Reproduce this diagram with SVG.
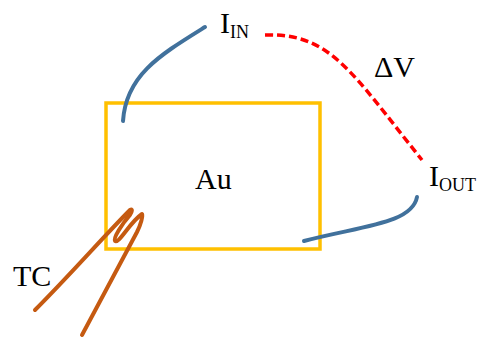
<svg xmlns="http://www.w3.org/2000/svg" width="477" height="340" viewBox="0 0 477 340">
<style>
.t{font-family:"Liberation Serif",serif;fill:#000}
.l{font-size:30px}
.s{font-size:18px}
.w{fill:none;stroke-linecap:round;stroke-linejoin:round;stroke-width:4}
</style>
<rect width="477" height="340" fill="#fff"/>
<g id="au"><rect x="106" y="103" width="214" height="146" fill="none" stroke="#ffc000" stroke-width="3.5"/>
<text class="t l" x="195" y="189">Au</text></g>
<g id="connectors">
<path class="w" stroke="#41719c" d="M123 121C126 75 160 55 205 27"/>
<path class="w" stroke="#41719c" d="M304 241C360 226 412 224 417 197"/>
<path fill="none" stroke="#f00" stroke-width="3.5" stroke-dasharray="8 4" d="M265 35C330 33 350 70 422 160"/>
<path class="w" stroke="#c55a11" d="M35 310C70 275 105 235 130 210C133 208 132 212 130 215C122 224 113 238 115 241C119 244 130 222 142 214C143 216 141 224 137 232L82 335"/>
</g>
<g id="iin"><text class="t l" x="220" y="33">I<tspan class="s" dy="5">IN</tspan></text></g>
<g id="iout"><text class="t l" x="429" y="186">I<tspan class="s" dy="5">OUT</tspan></text></g>
<g id="dv"><text class="t l" x="374" y="77">ΔV</text></g>
<g id="tc"><text class="t l" x="13" y="286">TC</text></g>
</svg>
